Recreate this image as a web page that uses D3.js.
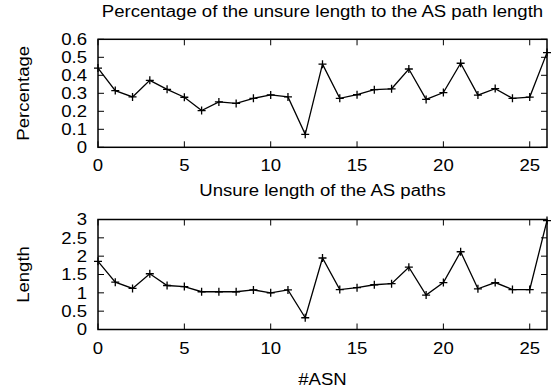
<!DOCTYPE html>
<html>
<head>
<meta charset="utf-8">
<script src="https://cdn.jsdelivr.net/npm/d3@7"></script>
<style>
  body { margin: 0; background: #fff; }
  svg text { font-family: "Liberation Sans", Arial, sans-serif; fill: #000; }
</style>
</head>
<body>
<div id="chart"></div>
<script>
// Data
const asn = d3.range(0, 27);
const percentage = [0.44, 0.315, 0.28, 0.372, 0.322, 0.278, 0.204, 0.252, 0.244, 0.272, 0.291, 0.28,
  0.072, 0.462, 0.272, 0.292, 0.32, 0.325, 0.435, 0.266, 0.304, 0.467, 0.29, 0.326, 0.272, 0.279, 0.526];
const unsureLength = [1.86, 1.29, 1.12, 1.52, 1.2, 1.17, 1.03, 1.03, 1.03, 1.08, 1.0, 1.08,
  0.32, 1.95, 1.09, 1.14, 1.22, 1.25, 1.7, 0.94, 1.28, 2.12, 1.11, 1.28, 1.09, 1.09, 2.97];
const xTicks = [0, 5, 10, 15, 20, 25];
const pctTicks = [0, 0.1, 0.2, 0.3, 0.4, 0.5, 0.6];
const lenTicks = [0, 0.5, 1, 1.5, 2, 2.5, 3];

const width = 557, height = 391;
const fontSize = 16;
const stretch = 1.16; // the original font is a little wider than Liberation Sans

const svg = d3.select('#chart')
  .append('svg')
    .attr('width', width)
    .attr('height', height);

const x = d3.scaleLinear().domain([0, 26]).range([98, 547]);

// text placed at (tx, ty) and widened along its baseline
function addText(parent, tx, ty, str, anchor, rotate) {
  return parent.append('text')
    .attr('transform', `translate(${tx},${ty})${rotate ? ' rotate(-90)' : ''} scale(${stretch},1)`)
    .attr('text-anchor', anchor)
    .style('font-size', fontSize + 'px')
    .text(str);
}

// Draw one gnuplot-style panel
function drawPanel(values, yDomain, yRange, yTicks, title, yLabel, xLabel) {
  const y = d3.scaleLinear().domain(yDomain).range(yRange);
  const g = svg.append('g');
  const tickLen = 6;

  // inward ticks on all four sides
  const tickG = g.append('g').attr('stroke', '#000').attr('stroke-width', 1);
  xTicks.forEach(t => {
    tickG.append('line').attr('x1', x(t)).attr('x2', x(t)).attr('y1', y(yDomain[0])).attr('y2', y(yDomain[0]) - tickLen);
    tickG.append('line').attr('x1', x(t)).attr('x2', x(t)).attr('y1', y(yDomain[1])).attr('y2', y(yDomain[1]) + tickLen);
  });
  yTicks.forEach(t => {
    tickG.append('line').attr('x1', x(0)).attr('x2', x(0) + tickLen).attr('y1', y(t)).attr('y2', y(t));
    tickG.append('line').attr('x1', x(26)).attr('x2', x(26) - tickLen).attr('y1', y(t)).attr('y2', y(t));
  });

  // tick labels
  xTicks.forEach(t => addText(g, x(t), y(yDomain[0]) + 24, t, 'middle'));
  yTicks.forEach(t => addText(g, 87, y(t) + 5.8, t, 'end'));

  // series line and plus markers
  const line = d3.line().x((d, i) => x(asn[i])).y(d => y(d));
  g.append('path')
    .datum(values)
    .attr('d', line)
    .attr('fill', 'none')
    .attr('stroke', '#000')
    .attr('stroke-width', 1.3);
  const m = 4;
  g.selectAll('.mk').data(values).enter().append('path')
    .attr('d', (d, i) => {
      const cx = x(asn[i]), cy = y(d);
      return `M${cx - m},${cy}H${cx + m}M${cx},${cy - m}V${cy + m}`;
    })
    .attr('stroke', '#000')
    .attr('stroke-width', 1.3);

  // frame
  g.append('rect')
    .attr('x', x(0)).attr('y', y(yDomain[1]))
    .attr('width', x(26) - x(0)).attr('height', y(yDomain[0]) - y(yDomain[1]))
    .attr('fill', 'none').attr('stroke', '#000').attr('stroke-width', 1.5);

  // titles
  addText(g, (x(0) + x(26)) / 2, title.y, title.text, 'middle');
  addText(g, 29, (yRange[0] + yRange[1]) / 2, yLabel, 'middle', true);
  if (xLabel) addText(g, (x(0) + x(26)) / 2, xLabel.y, xLabel.text, 'middle');
}

drawPanel(percentage, [0, 0.6], [147.3, 39.3], pctTicks,
  { text: 'Percentage of the unsure length to the AS path length', y: 17 }, 'Percentage');
drawPanel(unsureLength, [0, 3], [329.5, 219.5], lenTicks,
  { text: 'Unsure length of the AS paths', y: 196 }, 'Length', { text: '#ASN', y: 385 });
</script>
</body>
</html>
